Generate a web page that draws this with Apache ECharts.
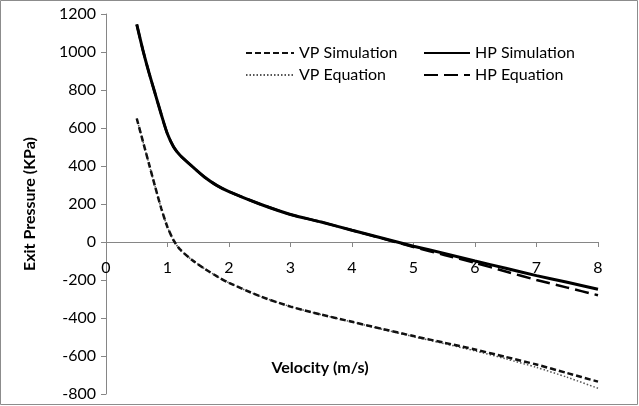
<!DOCTYPE html>
<html>
<head>
<meta charset="utf-8">
<script src="https://cdn.jsdelivr.net/npm/echarts@6/dist/echarts.min.js"></script>
<style>
  html, body { margin: 0; padding: 0; background: #fff; }
  #chart { width: 639px; height: 406px; }
</style>
</head>
<body>
<div id="chart"></div>
<script>
// velocities (m/s)
const velocity = [0.5, 0.6, 0.7, 0.8, 0.9, 1.0, 1.1, 1.2, 1.4, 1.6, 1.8, 2, 2.5, 3, 3.5, 4, 4.5, 5, 5.5, 6, 6.5, 7, 7.5, 8];

// exit pressure (KPa)
const vpSimulation = [650, 530, 410, 290, 175, 78, 8, -38, -95, -140, -180, -215, -285, -340, -382, -420, -458, -495, -530, -566, -605, -645, -690, -735];
const vpEquation = [650, 530, 410, 290, 175, 78, 8, -38, -95, -140, -180, -215, -285, -340, -382, -421, -460, -498, -535, -573, -615, -660, -712, -770];
const hpSimulation = [1145, 1010, 890, 780, 670, 568, 500, 458, 398, 342, 298, 265, 200, 145, 105, 62, 20, -22, -60, -100, -138, -177, -212, -249];
const hpEquation = [1145, 1010, 890, 780, 670, 568, 500, 458, 398, 342, 298, 265, 200, 145, 105, 62, 18, -26, -68, -110, -155, -200, -240, -280];

const font = 'Lato, "Open Sans", sans-serif';
const pairs = (ys) => velocity.map((v, i) => [v, ys[i]]);

const chart = echarts.init(document.getElementById('chart'), null, { renderer: 'canvas' });

const lineSeries = (name, ys, style) => ({
  name,
  type: 'line',
  data: pairs(ys),
  smooth: 0.25,
  symbol: 'none',
  lineStyle: style,
  itemStyle: { color: style.color },
  z: style.z || 2,
});

const legendBase = {
  orient: 'vertical',
  top: 40,
  itemHeight: 20, itemGap: 6,
  itemStyle: { opacity: 0 },
  textStyle: { fontFamily: font, fontSize: 16, color: '#000' },
};

chart.setOption({
  animation: false,
  backgroundColor: '#fff',
  graphic: [{
    type: 'rect',
    shape: { x: 0.5, y: 0.5, width: 637, height: 404 },
    style: { fill: 'none', stroke: '#8c8c8c', lineWidth: 1 },
    silent: true,
  }],
  grid: { left: 106, right: 41, top: 14, bottom: 12, containLabel: false, outerBoundsMode: 'none' },
  legend: [
    Object.assign({ data: ['VP Simulation', 'VP Equation'], left: 240, itemWidth: 48 }, legendBase),
    Object.assign({ data: ['HP Simulation', 'HP Equation'], left: 418, itemWidth: 46 }, legendBase),
  ],
  xAxis: {
    type: 'value',
    min: 0, max: 8, interval: 1,
    offset: -152,
    name: 'Velocity (m/s)',
    nameLocation: 'middle',
    nameGap: 118,
    nameTextStyle: { fontFamily: font, fontSize: 16, fontWeight: 'bold', color: '#000', padding: [0, 64, 0, 0] },
    axisLine: { onZero: false, lineStyle: { color: '#868686', width: 1 } },
    axisTick: { inside: false, length: 5, lineStyle: { color: '#868686' } },
    axisLabel: { margin: 18, fontFamily: font, fontSize: 16, color: '#000' },
    splitLine: { show: false },
  },
  yAxis: {
    type: 'value',
    min: -800, max: 1200, interval: 200,
    name: 'Exit Pressure (KPa)',
    nameLocation: 'middle',
    nameGap: 68,
    nameTextStyle: { fontFamily: font, fontSize: 16, fontWeight: 'bold', color: '#000' },
    axisLine: { show: true, lineStyle: { color: '#868686', width: 1 } },
    axisTick: { show: true, inside: false, length: 5, lineStyle: { color: '#868686' } },
    axisLabel: { margin: 10, fontFamily: font, fontSize: 16, color: '#000', formatter: (v) => String(v) },
    splitLine: { show: false },
  },
  series: [
    lineSeries('VP Simulation', vpSimulation, { color: '#111', width: 2.5, type: [6, 3], z: 3 }),
    lineSeries('HP Simulation', hpSimulation, { color: '#000', width: 3, type: 'solid', z: 3 }),
    lineSeries('VP Equation', vpEquation, { color: '#555', width: 1.5, type: [1.5, 2] }),
    lineSeries('HP Equation', hpEquation, { color: '#000', width: 2.5, type: [14, 6] }),
  ],
});
</script>
</body>
</html>
